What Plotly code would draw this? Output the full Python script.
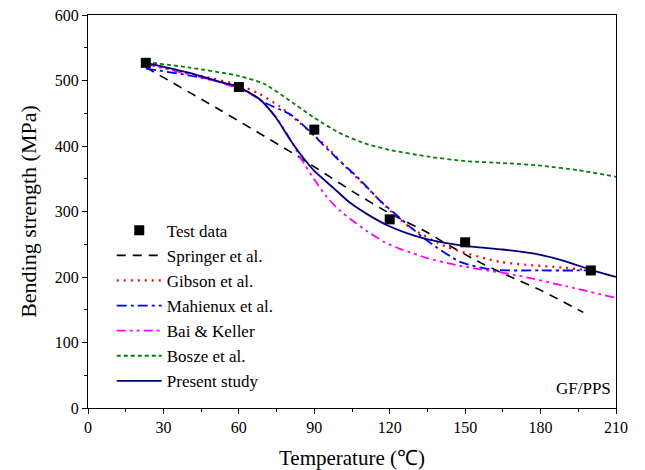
import plotly.graph_objects as go

# Test data
test_T = [23, 60, 90, 120, 150, 200]
test_S = [527, 490, 425, 288, 253, 210]

# Model curves
springer_T = [23, 52.5, 84, 105.5, 120, 135, 141, 156, 166.5, 181, 197]
springer_S = [520, 455, 383, 330, 297, 268, 254, 222, 203, 178, 146]

gibson_T = [23, 45, 60, 68, 76.4, 84.3, 95, 103, 110, 120, 128, 142.7, 164, 190, 200]
gibson_S = [525, 507, 493, 480, 460, 435, 399, 366, 340, 302, 276, 246, 223, 214, 210]

mahieux_T = [23, 40, 60, 70.4, 81, 89.6, 99, 107, 116, 122, 128, 134.7, 148, 161, 180, 200]
mahieux_S = [518, 508, 490, 466, 447, 417, 381, 353, 317, 297, 277, 256, 223, 211, 210, 210]

bai_T = [23, 45, 60, 68, 75, 80, 85, 90, 95, 100, 105.5, 111, 117.5, 124, 129.4, 134.7, 148, 170, 190, 210]
bai_S = [525, 505, 488, 472, 443, 413, 379, 349, 322, 302, 285, 270, 254, 243, 236, 229, 217, 203, 186, 168]

bosze_T = [23, 40, 60, 70, 80, 90, 100, 110, 120, 135, 150, 165, 180, 195, 210]
bosze_S = [528, 520, 507, 495, 470, 443, 420, 404, 394, 384, 377, 374, 370, 363, 353]

present_T = [23, 40, 52.5, 60, 68.4, 75, 80, 85, 90, 97.6, 104, 111, 119, 126.7, 134.7, 149, 165, 177, 190, 200, 210]
present_S = [527, 512, 498, 490, 471, 442, 412, 385, 362, 336, 314, 296, 279, 267, 258, 248, 242, 236, 224, 211, 200]

serif = "Liberation Serif"

fig = go.Figure()
lines = [
    ("Springer et al.", springer_T, springer_S, "black", "9px,7px", 1.6),
    ("Gibson et al.", gibson_T, gibson_S, "#ff0000", "2px,5px", 2.2),
    ("Mahienux et al.", mahieux_T, mahieux_S, "#0000ff", "10px,4px,3px,4px", 1.8),
    ("Bai & Keller", bai_T, bai_S, "#ff00ff", "9px,4px,3px,4px,3px,4px", 1.8),
    ("Bosze et al.", bosze_T, bosze_S, "#008000", "4px,3px", 1.8),
    ("Present study", present_T, present_S, "#000080", "solid", 1.8),
]
for i, (name, xs, ys, col, dash, w) in enumerate(lines):
    fig.add_trace(go.Scatter(x=xs, y=ys, mode="lines", name=name,
                             line=dict(color=col, dash=dash, width=w, shape="spline", smoothing=0.6),
                             legendrank=i + 2))
fig.add_trace(go.Scatter(x=test_T, y=test_S, mode="markers", name="Test data",
                         marker=dict(symbol="square", size=10, color="black"),
                         legendrank=1))

axis_common = dict(showline=True, linecolor="black", linewidth=1, mirror=True,
                   ticks="outside", ticklen=5, tickcolor="black", showgrid=False,
                   zeroline=False, ticklabeloverflow="allow",
                   tickfont=dict(family=serif, size=16, color="black"))

fig.update_layout(
    width=629, height=462,
    margin=dict(l=80, r=21, t=7, b=62),
    plot_bgcolor="white", paper_bgcolor="white",
    font=dict(family=serif, color="black"),
    xaxis=dict(range=[0, 210], dtick=30, tick0=0,
               minor=dict(dtick=15, ticks="outside", ticklen=3, tickcolor="black"),
               title=dict(text="Temperature (℃)", font=dict(family=serif, size=21), standoff=18),
               automargin=False, **axis_common),
    yaxis=dict(range=[0, 600], dtick=100, tick0=0,
               minor=dict(dtick=50, ticks="outside", ticklen=3, tickcolor="black"),
               title=dict(text="Bending strength (MPa)", font=dict(family=serif, size=22), standoff=12),
               automargin=False, **axis_common),
    legend=dict(x=0.045, y=0.497, xanchor="left", yanchor="top",
                font=dict(family=serif, size=17, color="black"),
                bgcolor="rgba(0,0,0,0)", traceorder="normal",
                itemwidth=45),
    showlegend=True,
    annotations=[dict(text="GF/PPS", x=0.995, y=0.02, xref="paper", yref="paper",
                      xanchor="right", yanchor="bottom", showarrow=False,
                      font=dict(family=serif, size=17, color="black"))],
)

fig.write_html("out.html")
